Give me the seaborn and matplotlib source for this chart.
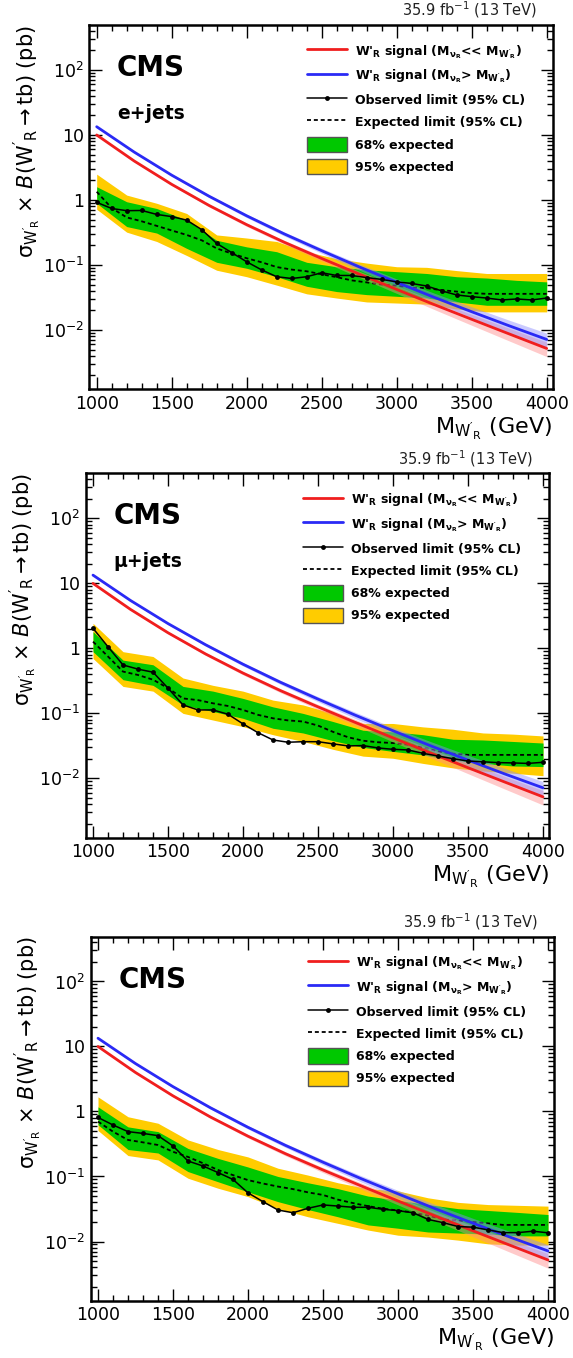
import numpy as np
import pandas as pd
import matplotlib
matplotlib.use("Agg")
import matplotlib.pyplot as plt
import seaborn as sns
from matplotlib.lines import Line2D
from matplotlib.patches import Patch
from matplotlib.ticker import FixedLocator, FixedFormatter, LogLocator, NullFormatter, MultipleLocator

# ---------------- data ----------------
mass = list(range(1000, 4001, 100))
mass_band = list(range(1000, 4001, 200))
mass_sig = list(range(1000, 4001, 250))

sig_red = [10, 3.98, 1.74, 0.822, 0.417, 0.224, 0.126, 0.0724, 0.042, 0.0246, 0.0146, 0.0087, 0.0052]
sig_blue = [13.4, 5.46, 2.41, 1.14, 0.571, 0.301, 0.166, 0.0935, 0.0541, 0.0318, 0.0191, 0.0116, 0.00716]
sig_unc = [0.03, 0.03, 0.04, 0.05, 0.06, 0.07, 0.09, 0.11, 0.13, 0.16, 0.19, 0.22, 0.25]

# e+jets
obs_e = [0.92, 0.74, 0.685, 0.69, 0.60, 0.555, 0.49, 0.35, 0.215, 0.155,
         0.112, 0.084, 0.066, 0.062, 0.066, 0.076, 0.069, 0.069, 0.064, 0.060,
         0.055, 0.052, 0.0475, 0.040, 0.0346, 0.0326, 0.031, 0.029, 0.030, 0.029, 0.031]
exp_e = [1.34, 0.75, 0.54, 0.47, 0.40, 0.34, 0.29, 0.24, 0.18, 0.15,
         0.127, 0.11, 0.093, 0.085, 0.08, 0.072, 0.065, 0.058, 0.054, 0.050,
         0.048, 0.045, 0.044, 0.041, 0.039, 0.037, 0.036, 0.036, 0.036, 0.036, 0.036]
p2_e = [2.5, 1.19, 0.89, 0.62, 0.29, 0.26, 0.23, 0.16, 0.125, 0.107, 0.094, 0.092, 0.082, 0.074, 0.074, 0.074]
p1_e = [1.6, 0.94, 0.74, 0.49, 0.24, 0.19, 0.16, 0.11, 0.094, 0.084, 0.079, 0.074, 0.066, 0.063, 0.058, 0.055]
m1_e = [0.89, 0.39, 0.31, 0.18, 0.11, 0.089, 0.066, 0.047, 0.039, 0.035, 0.033, 0.031, 0.027, 0.024, 0.024, 0.024]
m2_e = [0.72, 0.32, 0.23, 0.14, 0.083, 0.066, 0.049, 0.036, 0.031, 0.027, 0.026, 0.025, 0.021, 0.019, 0.019, 0.019]

# mu+jets
obs_mu = [2.04, 1.06, 0.556, 0.48, 0.43, 0.245, 0.135, 0.113, 0.113, 0.097,
          0.069, 0.0505, 0.039, 0.036, 0.0367, 0.0367, 0.034, 0.0316, 0.032, 0.0294,
          0.028, 0.0274, 0.0243, 0.0221, 0.0201, 0.0185, 0.018, 0.0175, 0.0173, 0.017, 0.0177]
exp_mu = [1.27, 0.75, 0.44, 0.39, 0.33, 0.245, 0.17, 0.16, 0.143, 0.13,
          0.113, 0.095, 0.084, 0.078, 0.075, 0.065, 0.052, 0.043, 0.038, 0.036,
          0.035, 0.033, 0.030, 0.026, 0.024, 0.023, 0.023, 0.023, 0.023, 0.023, 0.023]
p2_mu = [2.43, 0.89, 0.75, 0.35, 0.27, 0.22, 0.16, 0.135, 0.10, 0.07, 0.07, 0.062, 0.057, 0.05, 0.048, 0.045]
p1_mu = [1.81, 0.66, 0.56, 0.26, 0.22, 0.17, 0.126, 0.10, 0.075, 0.055, 0.052, 0.047, 0.04, 0.039, 0.037, 0.035]
m1_mu = [0.89, 0.33, 0.27, 0.135, 0.107, 0.084, 0.059, 0.05, 0.038, 0.03, 0.026, 0.023, 0.019, 0.017, 0.0155, 0.0152]
m2_mu = [0.70, 0.26, 0.22, 0.10, 0.079, 0.0625, 0.047, 0.037, 0.028, 0.022, 0.0204, 0.017, 0.0145, 0.013, 0.012, 0.011]

# combined
obs_c = [0.81, 0.62, 0.49, 0.46, 0.425, 0.295, 0.173, 0.145, 0.115, 0.090,
         0.056, 0.041, 0.0305, 0.0277, 0.0324, 0.0365, 0.0351, 0.0336, 0.0336, 0.0313,
         0.0298, 0.0277, 0.0219, 0.0195, 0.0170, 0.0166, 0.0151, 0.0137, 0.0137, 0.0144, 0.0136]
exp_c = [0.70, 0.49, 0.365, 0.335, 0.305, 0.24, 0.20, 0.16, 0.126, 0.105,
         0.088, 0.078, 0.07, 0.064, 0.057, 0.052, 0.044, 0.039, 0.035, 0.032,
         0.030, 0.028, 0.025, 0.022, 0.021, 0.020, 0.019, 0.018, 0.018, 0.018, 0.018]
p2_c = [1.68, 0.83, 0.66, 0.365, 0.26, 0.20, 0.134, 0.105, 0.08, 0.065, 0.060, 0.047, 0.040, 0.037, 0.036, 0.035]
p1_c = [1.18, 0.58, 0.49, 0.27, 0.19, 0.14, 0.10, 0.08, 0.065, 0.05, 0.043, 0.037, 0.032, 0.030, 0.028, 0.026]
m1_c = [0.625, 0.26, 0.23, 0.119, 0.083, 0.058, 0.041, 0.031, 0.024, 0.018, 0.016, 0.014, 0.0135, 0.013, 0.0122, 0.0122]
m2_c = [0.51, 0.21, 0.18, 0.094, 0.066, 0.049, 0.032, 0.024, 0.019, 0.015, 0.0125, 0.0117, 0.0105, 0.0092, 0.0088, 0.0088]

channels = ["e+jets", "\u03bc+jets", None]

y_ticks = [1e-2, 1e-1, 1, 10, 100]
y_ticklabels = ["$10^{-2}$", "$10^{-1}$", "1", "10", "$10^{2}$"]

legend_labels = [
    r"W'$_R$ signal (M$_{\nu_R}$<< M$_{W'_R}$)",
    r"W'$_R$ signal (M$_{\nu_R}$> M$_{W'_R}$)",
    "Observed limit (95% CL)",
    "Expected limit (95% CL)",
    "68% expected",
    "95% expected",
]

# ---------------- style ----------------
sns.set_theme(style="ticks")
plt.rcParams["font.family"] = ["DejaVu Sans"]
plt.rcParams["mathtext.default"] = "regular"
plt.rcParams["text.color"] = "black"
plt.rcParams["axes.labelcolor"] = "black"

RED = "#f01e1e"
BLUE = "#2a2af5"
GREEN = "#00c800"
YELLOW = "#ffcc00"

fig = plt.figure(figsize=(5.73, 13.58), dpi=100)
W = 463.4 / 573
H = 364.3 / 1358
positions = [
    [89.3 / 573, (1358 - 389.3) / 1358, W, H],
    [85.6 / 573, (1358 - 837.7) / 1358, W, H],
    [90.6 / 573, (1358 - 1300.8) / 1358, W, H],
]

panels = [
    (obs_e, exp_e, p2_e, p1_e, m1_e, m2_e),
    (obs_mu, exp_mu, p2_mu, p1_mu, m1_mu, m2_mu),
    (obs_c, exp_c, p2_c, p1_c, m1_c, m2_c),
]

sig_red_a = np.array(sig_red)
sig_blue_a = np.array(sig_blue)
unc_a = np.array(sig_unc)

for pos, data, chan in zip(positions, panels, channels):
    obs, exp, p2, p1, m1, m2 = data
    ax = fig.add_axes(pos)
    ax.set_yscale("log")

    ax.fill_between(mass_band, m2, p2, color=YELLOW, lw=0, zorder=1)
    ax.fill_between(mass_band, m1, p1, color=GREEN, lw=0, zorder=2)
    sns.lineplot(x=mass, y=exp, ax=ax, color="black", lw=1.3,
                 linestyle=(0, (2.2, 1.6)), zorder=3)

    ax.fill_between(mass_sig, sig_red_a * (1 - unc_a), sig_red_a * (1 + unc_a),
                    color="#ff8a8a", alpha=0.45, lw=0, zorder=4)
    ax.fill_between(mass_sig, sig_blue_a * (1 - unc_a), sig_blue_a * (1 + unc_a),
                    color="#8a8aff", alpha=0.45, lw=0, zorder=4)
    sns.lineplot(x=mass_sig, y=sig_red, ax=ax, color=RED, lw=2.0, zorder=5)
    sns.lineplot(x=mass_sig, y=sig_blue, ax=ax, color=BLUE, lw=2.0, zorder=5)

    sns.lineplot(x=mass, y=obs, ax=ax, color="black", lw=1.1, marker="o",
                 markersize=3.5, markeredgewidth=0, zorder=6)

    ax.set_xlim(950.7, 4040)
    ax.set_ylim(0.001224, 492)

    ax.xaxis.set_major_locator(MultipleLocator(500))
    ax.xaxis.set_minor_locator(MultipleLocator(100))
    ax.yaxis.set_major_locator(FixedLocator(y_ticks))
    ax.yaxis.set_major_formatter(FixedFormatter(y_ticklabels))
    ax.yaxis.set_minor_locator(LogLocator(base=10, subs=np.arange(2, 10), numticks=30))
    ax.yaxis.set_minor_formatter(NullFormatter())

    ax.tick_params(which="both", direction="in", top=True, right=True,
                   colors="black", width=1.0)
    ax.tick_params(which="major", length=9, labelsize=12.5)
    ax.tick_params(axis="x", which="major", pad=4)
    ax.tick_params(axis="y", which="major", pad=4)
    ax.tick_params(which="minor", length=4.5)
    for sp in ax.spines.values():
        sp.set_linewidth(1.8)
        sp.set_color("black")
        sp.set_zorder(10)

    ax.set_ylabel(r"$\sigma_{W'_{R}}$ $\times$ $\mathit{B}$($W'_{R}$$\rightarrow$tb) (pb)",
                  fontsize=15, loc="top")
    ax.yaxis.set_label_coords(-0.10, 1.0)
    ax.set_xlabel(r"M$_{W'_{R}}$ (GeV)", fontsize=16, loc="right")
    ax.xaxis.set_label_coords(1.0, -0.072)

    ax.text(0.966, 1.025, "35.9 fb$^{-1}$ (13 TeV)", transform=ax.transAxes,
            ha="right", va="baseline", fontsize=10.5, color="#222222")
    ax.text(0.06, 0.86, "CMS", transform=ax.transAxes, ha="left", va="baseline",
            fontsize=20, fontweight="bold", color="black")
    if chan:
        ax.text(0.06, 0.742, chan, transform=ax.transAxes, ha="left", va="baseline",
                fontsize=13.5, fontweight="bold", color="black")

    handles = [
        Line2D([], [], color=RED, lw=2.0),
        Line2D([], [], color=BLUE, lw=2.0),
        Line2D([], [], color="black", lw=1.1, marker="o", markersize=3.5, markeredgewidth=0),
        Line2D([], [], color="black", lw=1.3, linestyle=(0, (2.2, 1.6))),
        Patch(facecolor=GREEN, edgecolor="#555555", lw=1.0),
        Patch(facecolor=YELLOW, edgecolor="#555555", lw=1.0),
    ]
    leg = ax.legend(handles, legend_labels, loc="upper left", bbox_to_anchor=(0.469, 0.95),
                    frameon=False, prop={"weight": "bold", "size": 9},
                    handlelength=3.2, handleheight=1.5, handletextpad=0.67,
                    labelspacing=0.56, borderpad=0, borderaxespad=0, numpoints=1,
                    labelcolor="black")
    leg.set_zorder(12)

fig.savefig("out.png", dpi=100)
